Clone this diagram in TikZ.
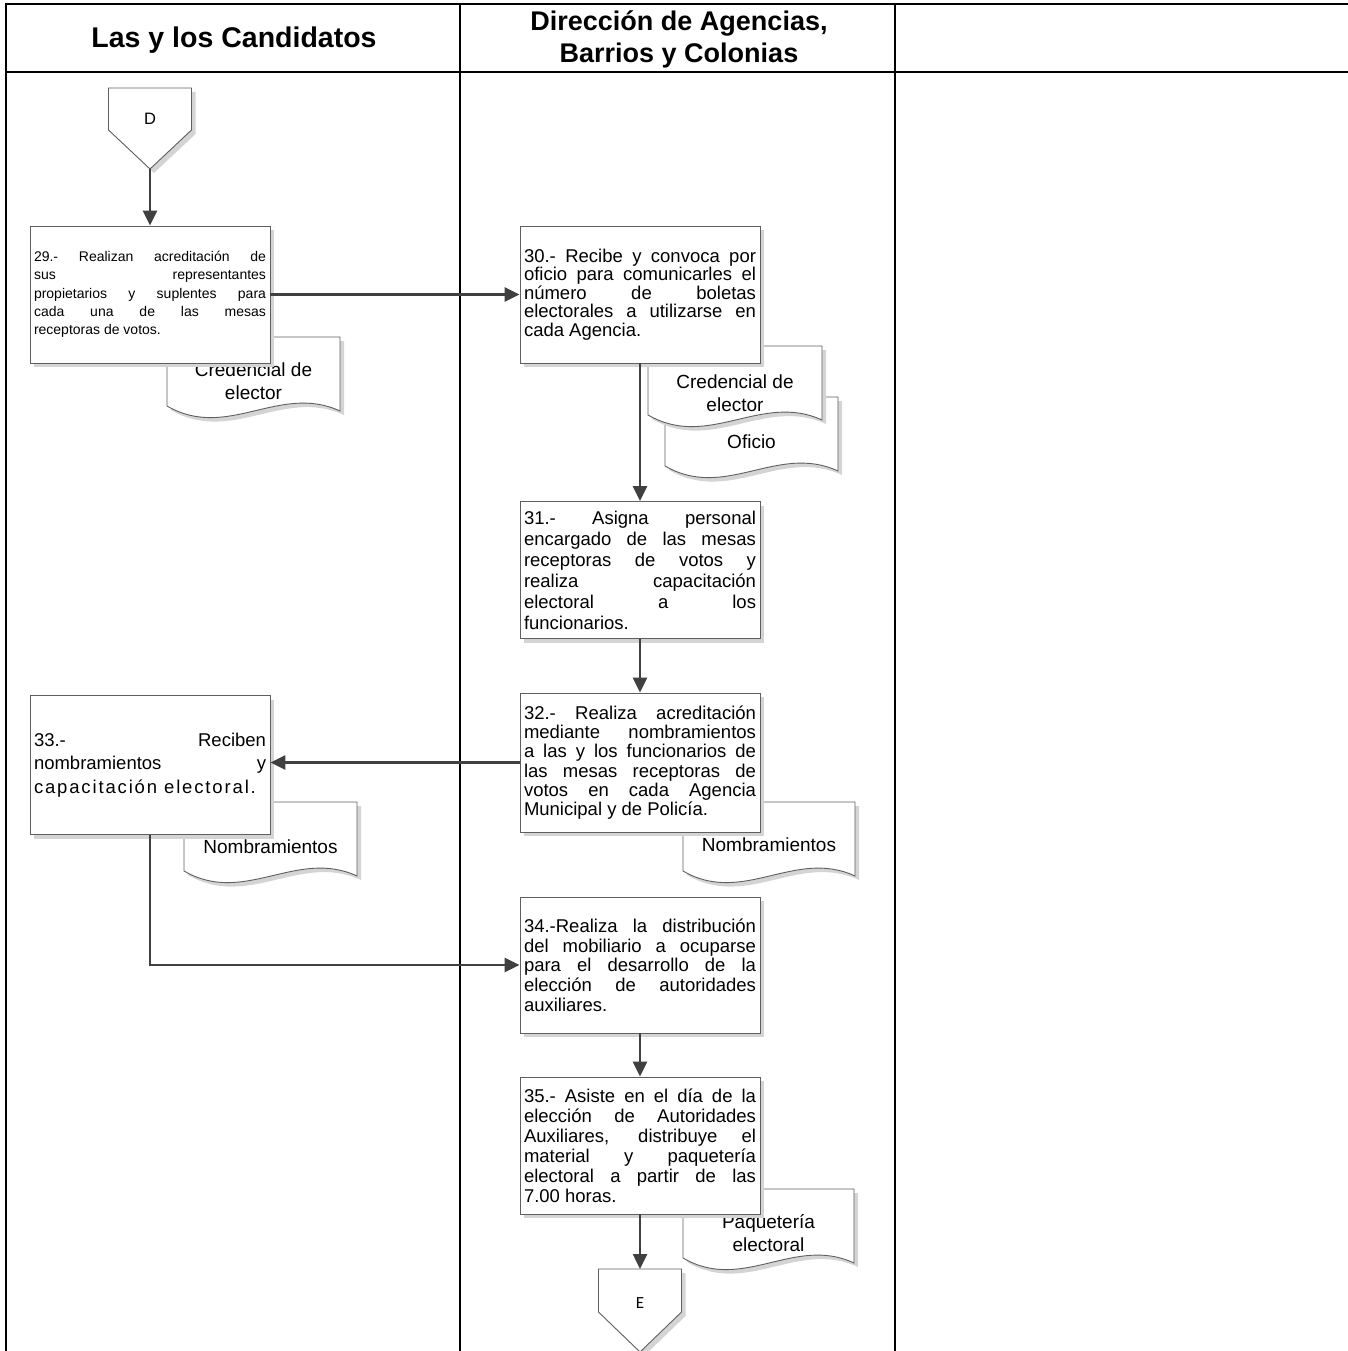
\documentclass[tikz,border=0pt]{standalone}
\usepackage{fontspec}
\setmainfont{Liberation Sans}
\newfontfamily\carlito{Carlito}
\usetikzlibrary{arrows.meta,shadows}
\definecolor{arrowc}{HTML}{404040}
\definecolor{boxline}{HTML}{5F5F5F}
\definecolor{shadowc}{HTML}{D4D4D4}
\newcommand\jl[1]{\hbox to 232pt{#1}\par}
\newcommand\tightls{\lineskiplimit -20pt\relax}
\newcommand\docshape[6]{%
  \begin{scope}[shift={(#2,#3)}]
    \fill[shadowc] (4,4) -- ({#4+4},4) -- ({#4+4},78) .. controls ({0.65*#4+4},50) and ({0.35*#4+4},108) .. (4,73) -- cycle;
    \filldraw[fill=white,draw=boxline,line width=0.9pt] (0,0) -- (#4,0) -- (#4,74) .. controls ({0.65*#4},46) and ({0.35*#4},104) .. (0,69) -- cycle;
    \node[doctext] (#1) at ({#4/2},#5) {#6};
  \end{scope}}
\tikzset{
  stepbox/.style={rectangle, draw=boxline, line width=0.9pt, fill=white,
    minimum width=240pt, minimum height=137pt, text width=232pt,
    inner xsep=4pt, inner ysep=0pt, align=justify,
    drop shadow={shadow xshift=4pt, shadow yshift=-4pt, fill=shadowc, opacity=1}},
  doctext/.style={align=center, inner sep=0pt, font=\fontsize{19}{23}\selectfont},
  hdr/.style={align=center, inner sep=0pt, font=\fontsize{27}{32}\selectfont\bfseries},
  tbl/.style={line width=2.5pt, line cap=rect, black},
  arr/.style={draw=arrowc, line width=2.5pt, -{Triangle[length=15pt,width=14pt]}},
  conline/.style={fill=white, draw=boxline, line width=0.9pt},
}
\begin{document}
\begin{tikzpicture}[x=1pt,y=-1pt]
\useasboundingbox (0,0) rectangle (1348,1351);
% table
\draw[tbl] (6,4) -- (1348,4);
\draw[tbl] (6,72) -- (1348,72);
\draw[tbl] (6,4) -- (6,1351);
\draw[tbl] (460,4) -- (460,1351);
\draw[tbl] (895,4) -- (895,1351);
\node[hdr, font=\fontsize{28.5}{32}\selectfont\bfseries] (h1) at (234,40) {Las y los Candidatos};
\node[hdr] (h2) at (679,39) {Dirección de Agencias,\\Barrios y Colonias};

% documents (drawn first so boxes cover them)
\docshape{dcl}{167}{337}{173}{44}{Credencial de\\elector}
\docshape{dof}{665}{397}{173}{45}{Oficio}
\docshape{dcm}{648}{346}{174}{47}{Credencial de\\elector}
\docshape{dnl}{184}{802}{173}{45}{Nombramientos}
\docshape{dnm}{683}{802}{172}{43}{Nombramientos}
\docshape{dpq}{683}{1189}{171}{44}{Paquetería\\electoral}

% connector D
\fill[shadowc] (112.5,92) -- (195.5,92) -- (195.5,134) -- (154,173) -- (112.5,134) -- cycle;
\filldraw[conline] (108.5,88) -- (191.5,88) -- (191.5,130) -- (150,169) -- (108.5,130) -- cycle;
\node[font=\fontsize{16.5}{16.5}\selectfont] (D) at (150,119) {D};
\coordinate (Dtip) at (150,169);

% connector E
\fill[shadowc] (602.5,1273) -- (685.5,1273) -- (685.5,1316) -- (644,1356) -- (602.5,1316) -- cycle;
\filldraw[conline] (598.5,1269) -- (681.5,1269) -- (681.5,1312) -- (640,1352) -- (598.5,1312) -- cycle;
\node[font=\carlito\fontsize{17}{17}\selectfont] (E) at (640,1303) {E};
\coordinate (Etop) at (640,1269);

% process boxes
\node[stepbox, font=\fontsize{14}{18.3}\selectfont\tightls] (b29) at (150,294.5) {%
\jl{29.- Realizan acreditación de}\jl{sus representantes}\jl{propietarios y suplentes para}\jl{cada una de las mesas}receptoras de votos.};

\node[stepbox, font=\fontsize{18.5}{18.5}\selectfont\tightls] (b30) at (640,294.5) {%
\jl{30.- Recibe y convoca por}\jl{oficio para comunicarles el}\jl{número de boletas}\jl{electorales a utilizarse en}cada Agencia.};

\node[stepbox, font=\fontsize{18.5}{21}\selectfont\tightls] (b31) at (640,570) {%
\jl{31.- Asigna personal}\jl{encargado de las mesas}\jl{receptoras de votos y}\jl{realiza capacitación}\jl{electoral a los}funcionarios.};

\node[stepbox, minimum height=139pt, font=\fontsize{18.5}{19.3}\selectfont\tightls] (b32) at (640,762.5) {%
\jl{32.- Realiza acreditación}\jl{mediante nombramientos}\jl{a las y los funcionarios de}\jl{las mesas receptoras de}\jl{votos en cada Agencia}Municipal y de Policía.};

\node[stepbox, minimum height=139pt, font=\fontsize{18.5}{23.3}\selectfont\tightls] (b33) at (150,765) {%
\jl{33.- Reciben}\jl{nombramientos y}{\addfontfeature{LetterSpace=10}capacitación electoral.}};

\node[stepbox, minimum height=136pt, font=\fontsize{18.5}{19.7}\selectfont\tightls] (b34) at (640,965) {%
\jl{34.-Realiza la distribución}\jl{del mobiliario a ocuparse}\jl{para el desarrollo de la}\jl{elección de autoridades}auxiliares.};

\node[stepbox, font=\fontsize{18.5}{20}\selectfont\tightls] (b35) at (640,1145.5) {%
\jl{35.- Asiste en el día de la}\jl{elección de Autoridades}\jl{Auxiliares, distribuye el}\jl{material y paquetería}\jl{electoral a partir de las}7.00 horas.};

% connectors
\draw[arr] (Dtip) -- (b29.north);
\draw[arr] (b29.east) -- (b30.west);
\draw[arr] (b30.south) -- (b31.north);
\draw[arr] (b31.south) -- (b32.north);
\draw[arr] (b32.west) -- (b33.east |- b32.west);
\draw[arr] (b33.south) |- (b34.west);
\draw[arr] (b34.south) -- (b35.north);
\draw[arr] (b35.south) -- (Etop);
\end{tikzpicture}
\end{document}
